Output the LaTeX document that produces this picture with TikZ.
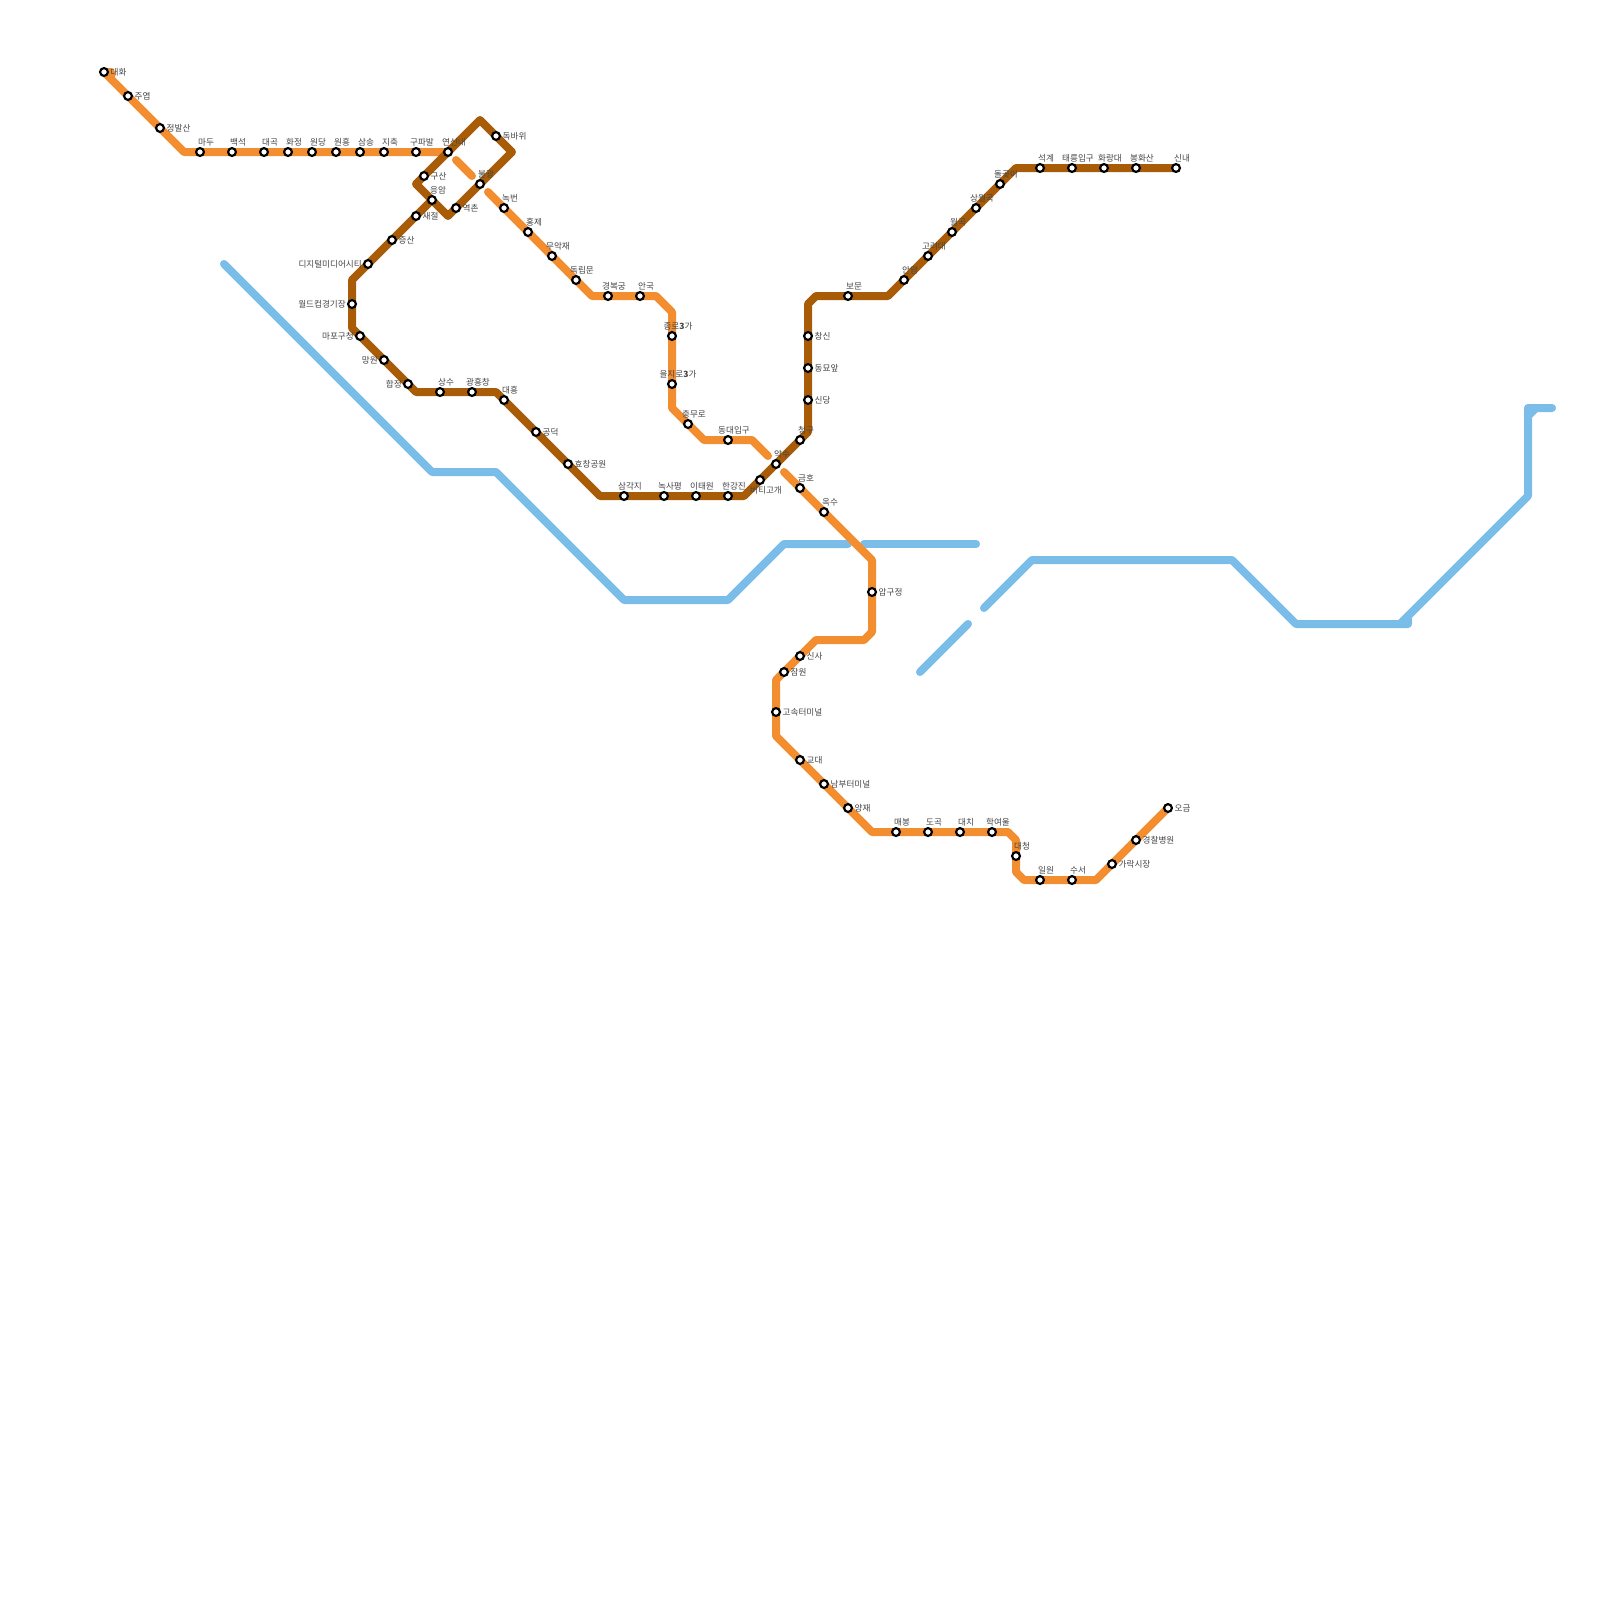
\documentclass[tikz,border=0pt]{standalone}
\usepackage{fontspec}
\setmainfont{Noto Sans CJK KR}
\usetikzlibrary{backgrounds}
\definecolor{lineorange}{HTML}{F28E30}
\definecolor{linebrown}{HTML}{A85C08}
\definecolor{lineblue}{HTML}{7ABDE9}
\definecolor{labelgray}{HTML}{444444}
\tikzset{
  stn/.style={circle,draw=black,fill=white,line width=2.2pt,minimum size=7.8pt,inner sep=0pt},
  lbl/.style={font=\fontsize{8.6}{10}\selectfont,text=labelgray,inner sep=0pt,text height=6.4pt,text depth=0.8pt},
  metro/.style={line width=8pt,line cap=round,line join=round},
  orangeline/.style={metro,draw=lineorange},
  brownline/.style={metro,draw=linebrown},
  blueline/.style={metro,draw=lineblue},
}
\newcommand{\stT}[4]{\node[stn](#1) at (#2,#3){};\node[lbl,anchor=center](#1-label) at (#2+6,#3-9.5){#4};}
\newcommand{\stB}[4]{\node[stn](#1) at (#2,#3){};\node[lbl,anchor=center](#1-label) at (#2+6,#3+10.5){#4};}
\newcommand{\stR}[4]{\node[stn](#1) at (#2,#3){};\node[lbl,anchor=west](#1-label) at (#2+6.5,#3+0.5){#4};}
\newcommand{\stL}[4]{\node[stn](#1) at (#2,#3){};\node[lbl,anchor=east](#1-label) at (#2-6,#3+0.5){#4};}
\newcommand{\pt}[3]{\coordinate (#1) at (#2,#3);}
\begin{document}
\begin{tikzpicture}[x=1pt,y=-1pt]
\useasboundingbox (0,0) rectangle (1600,1600);
% stations, line 3
\stR{daehwa}{104}{72}{대화}
\stR{juyeop}{128}{96}{주엽}
\stR{jeongbalsan}{160}{128}{정발산}
\stT{madu}{200}{152}{마두}
\stT{baekseok}{232}{152}{백석}
\stT{daegok}{264}{152}{대곡}
\stT{hwajeong}{288}{152}{화정}
\stT{wondang}{312}{152}{원당}
\stT{wonheung}{336}{152}{원흥}
\stT{samsong}{360}{152}{삼송}
\stT{jichuk}{384}{152}{지축}
\stT{gupabal}{416}{152}{구파발}
\stT{yeonsinnae}{448}{152}{연신내}
\stT{bulgwang}{480}{184}{불광}
\stT{nokbeon}{504}{208}{녹번}
\stT{hongje}{528}{232}{홍제}
\stT{muakjae}{552}{256}{무악재}
\stT{dongnimmun}{576}{280}{독립문}
\stT{gyeongbokgung}{608}{296}{경복궁}
\stT{anguk}{640}{296}{안국}
\stT{jongno}{672}{336}{종로{\bfseries 3}가}
\stT{euljiro}{672}{384}{을지로{\bfseries 3}가}
\stT{chungmuro}{688}{424}{충무로}
\stT{dongdae}{728}{440}{동대입구}
\stT{yaksu}{776}{464}{약수}
\stT{geumho}{800}{488}{금호}
\stT{oksu}{824}{512}{옥수}
\stR{apgujeong}{872}{592}{압구정}
\stR{sinsa}{800}{656}{신사}
\stR{jamwon}{784}{672}{잠원}
\stR{express}{776}{712}{고속터미널}
\stR{gyodae}{800}{760}{교대}
\stR{nambu}{824}{784}{남부터미널}
\stR{yangjae}{848}{808}{양재}
\stT{maebong}{896}{832}{매봉}
\stT{dogok}{928}{832}{도곡}
\stT{daechi}{960}{832}{대치}
\stT{hagyeoul}{992}{832}{학여울}
\stT{daecheong}{1016}{856}{대청}
\stT{irwon}{1040}{880}{일원}
\stT{suseo}{1072}{880}{수서}
\stR{garak}{1112}{864}{가락시장}
\stR{police}{1136}{840}{경찰병원}
\stR{ogeum}{1168}{808}{오금}
% stations, line 6
\stR{gusan}{424}{176}{구산}
\stT{eungam}{432}{200}{응암}
\stR{saejeol}{416}{216}{새절}
\stR{jeungsan}{392}{240}{증산}
\stL{dmc}{368}{264}{디지털미디어시티}
\stL{worldcup}{352}{304}{월드컵경기장}
\stL{mapo}{360}{336}{마포구청}
\stL{mangwon}{384}{360}{망원}
\stL{hapjeong}{408}{384}{합정}
\stT{sangsu}{440}{392}{상수}
\stT{gwangheung}{472}{392}{광흥창}
\stT{daeheung}{504}{400}{대흥}
\stR{gongdeok}{536}{432}{공덕}
\stR{hyochang}{568}{464}{효창공원}
\stT{samgakji}{624}{496}{삼각지}
\stT{noksapyeong}{664}{496}{녹사평}
\stT{itaewon}{696}{496}{이태원}
\stT{hangangjin}{728}{496}{한강진}
\stB{beoti}{760}{480}{버티고개}
\stT{cheonggu}{800}{440}{청구}
\stR{sindang}{808}{400}{신당}
\stR{dongmyo}{808}{368}{동묘앞}
\stR{changsin}{808}{336}{창신}
\stT{bomun}{848}{296}{보문}
\stT{anam}{904}{280}{안암}
\stT{korea}{928}{256}{고려대}
\stT{wolgok}{952}{232}{월곡}
\stT{sangwolgok}{976}{208}{상월곡}
\stT{dolgoji}{1000}{184}{돌곶이}
\stT{seokgye}{1040}{168}{석계}
\stT{taereung}{1072}{168}{태릉입구}
\stT{hwarangdae}{1104}{168}{화랑대}
\stT{bonghwasan}{1136}{168}{봉화산}
\stT{sinnae}{1176}{168}{신내}
\stR{dokbawi}{496}{136}{독바위}
\stR{yeokchon}{456}{208}{역촌}
% bends
\pt{ay}{111}{72}\pt{az}{111}{79}
\pt{oa}{184}{152}\pt{ob}{456}{160}\pt{oc}{472}{176}\pt{od}{488}{192}\pt{oe}{592}{296}\pt{of}{656}{296}\pt{og}{672}{312}
\pt{oh}{672}{408}\pt{oi}{704}{440}\pt{oj}{752}{440}\pt{ok}{768}{456}\pt{ol}{784}{472}\pt{om}{872}{560}\pt{on}{872}{632}\pt{oo}{864}{640}\pt{op}{816}{640}
\pt{oq}{776}{680}\pt{or}{776}{736}\pt{os}{872}{832}\pt{ot}{1008}{832}\pt{ou}{1016}{840}\pt{ov}{1016}{872}\pt{ow}{1024}{880}\pt{ox}{1096}{880}
\pt{ba}{352}{280}\pt{bb}{352}{328}\pt{bc}{416}{392}\pt{bd}{496}{392}\pt{be}{600}{496}\pt{bf}{744}{496}\pt{bg}{808}{432}\pt{bh}{808}{304}\pt{bi}{816}{296}\pt{bj}{888}{296}\pt{bk}{1016}{168}
\pt{loopl}{416}{184}\pt{loopt}{480}{120}\pt{loopr}{512}{152}\pt{loopb}{448}{216}
\pt{ua}{224}{264}\pt{ub}{432}{472}\pt{uc}{496}{472}\pt{ud}{624}{600}\pt{ue}{728}{600}\pt{uf}{784}{544}\pt{ug}{848}{544}
\pt{uh}{864}{544}\pt{ui}{976}{544}
\pt{uj}{920}{672}\pt{uk}{968}{624}
\pt{ul}{984}{608}\pt{um}{1032}{560}\pt{un}{1232}{560}\pt{uo}{1296}{624}\pt{up}{1408}{624}\pt{uq}{1408}{616}\pt{ur}{1528}{496}\pt{us}{1528}{408}\pt{ut}{1552}{408}\pt{uu}{1528}{416}\pt{uv}{1536}{408}\pt{uw}{1400}{624}
\begin{scope}[on background layer]
\draw[blueline] (ua)--(ub)--(uc)--(ud)--(ue)--(uf)--(ug);
\draw[blueline] (uh)--(ui);
\draw[blueline] (uj)--(uk);
\draw[blueline] (ul)--(um)--(un)--(uo)--(up)--(uq)--(ur)--(us)--(ut);
\draw[blueline] (uu)--(uv);
\draw[blueline] (uw)--(uq);
\draw[orangeline,line cap=butt] (daehwa.center)--(oa)--(yeonsinnae.center);
\draw[orangeline] (daehwa.center)--(ay)--(az);
\draw[orangeline] (ob)--(oc);
\draw[orangeline] (od)--(oe)--(of)--(og)--(oh)--(oi)--(oj)--(ok);
\draw[orangeline] (ol)--(om)--(on)--(oo)--(op)--(oq)--(or)--(os)--(ot)--(ou)--(ov)--(ow)--(ox)--(ogeum.center);
\draw[brownline] (eungam.center)--(ba)--(bb)--(bc)--(bd)--(be)--(bf)--(bg)--(bh)--(bi)--(bj)--(bk)--(sinnae.center);
\draw[brownline] (loopl)--(loopt)--(loopr)--(loopb)--cycle;
\end{scope}
\end{tikzpicture}
\end{document}
